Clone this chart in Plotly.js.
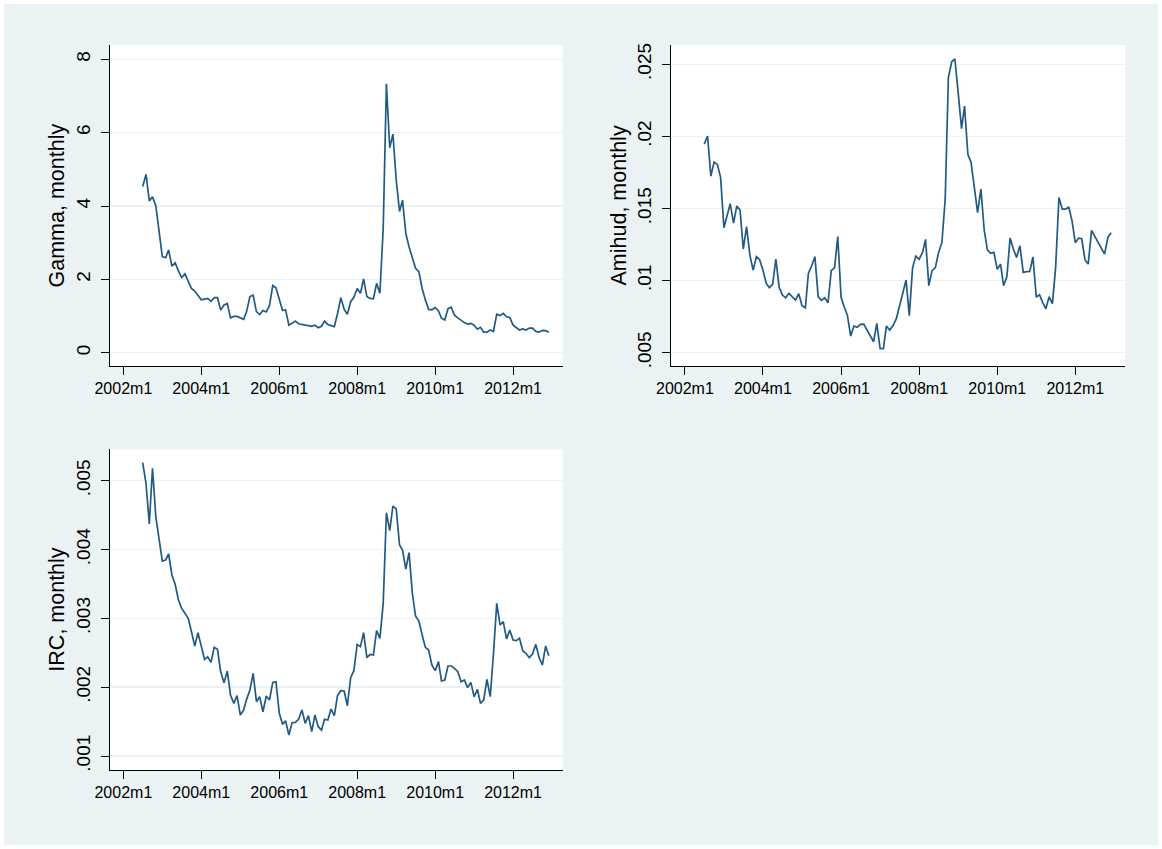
<!DOCTYPE html>
<html><head><meta charset="utf-8">
<script src="https://cdn.plot.ly/plotly-3.0.1.min.js"></script>
<style>
html,body{margin:0;padding:0;background:#ffffff;}
#chart{position:absolute;left:4px;top:4px;width:1154px;height:841px;}
</style></head><body><div id="chart"></div>
<script>
// First month of every series (Stata monthly format yyyy m mm)
const startMonth = '2002-07';

const gamma = [
  4.53,4.86,4.14,4.25,4.01,3.30,2.62,2.59,2.80,2.36,
  2.45,2.23,2.05,2.15,1.96,1.75,1.68,1.57,1.44,1.46,
  1.48,1.40,1.50,1.50,1.16,1.30,1.34,0.95,0.99,0.99,
  0.94,0.91,1.12,1.53,1.57,1.12,1.04,1.15,1.11,1.28,
  1.83,1.77,1.46,1.15,1.17,0.75,0.80,0.86,0.79,0.78,
  0.75,0.74,0.72,0.75,0.68,0.72,0.86,0.77,0.75,0.71,
  1.07,1.50,1.18,1.05,1.39,1.51,1.75,1.62,2.01,1.53,
  1.48,1.47,1.89,1.62,3.39,7.33,5.59,5.96,4.71,3.85,
  4.16,3.25,2.89,2.62,2.30,2.21,1.75,1.44,1.18,1.17,
  1.23,1.14,0.94,0.89,1.20,1.24,1.02,0.95,0.87,0.82,
  0.78,0.80,0.75,0.64,0.69,0.56,0.56,0.62,0.58,1.05,
  1.01,1.07,0.98,0.96,0.75,0.69,0.62,0.65,0.62,0.67,
  0.67,0.58,0.56,0.61,0.60,0.56
];

const amihud = [
  .01947,.02003,.01725,.01822,.01806,.01716,.01367,.01455,.01533,.01399,
  .01517,.01490,.01219,.01374,.01177,.01073,.01166,.01145,.01073,.00981,
  .00951,.00974,.01150,.00953,.00900,.00881,.00912,.00888,.00865,.00909,
  .00826,.00812,.01050,.01103,.01166,.00888,.00863,.00881,.00847,.01069,
  .01090,.01305,.00884,.00814,.00761,.00616,.00685,.00676,.00697,.00699,
  .00657,.00623,.00576,.00703,.00530,.00528,.00685,.00657,.00687,.00734,
  .00830,.00912,.01004,.00757,.01090,.01170,.01147,.01194,.01286,.00965,
  .01069,.01090,.01196,.01263,.01564,.02410,.02518,.02537,.02299,.02054,
  .02211,.01876,.01820,.01656,.01471,.01635,.01351,.01212,.01189,.01196,
  .01078,.01115,.00965,.01027,.01295,.01217,.01161,.01242,.01057,.01062,
  .01064,.01164,.00886,.00902,.00849,.00805,.00888,.00840,.01090,.01577,
  .01496,.01496,.01508,.01416,.01263,.01295,.01291,.01143,.01115,.01349,
  .01309,.01270,.01231,.01184,.01300,.01332
];

const irc = [
  .005262,.004962,.004371,.005180,.004477,.004162,.003833,.003848,.003935,.003630,
  .003494,.003267,.003145,.003073,.003000,.002806,.002598,.002792,.002579,.002404,
  .002443,.002361,.002579,.002550,.002225,.002065,.002235,.001886,.001765,.001877,
  .001596,.001668,.001823,.001959,.002201,.001789,.001862,.001644,.001872,.001814,
  .002070,.002080,.001620,.001460,.001513,.001305,.001484,.001489,.001533,.001668,
  .001475,.001586,.001354,.001596,.001426,.001378,.001533,.001523,.001683,.001586,
  .001880,.001949,.001944,.001731,.002138,.002240,.002622,.002589,.002792,.002429,
  .002477,.002467,.002821,.002710,.003218,.004535,.004274,.004632,.004589,.004066,
  .003993,.003717,.003954,.003363,.003034,.002961,.002758,.002579,.002540,.002322,
  .002240,.002371,.002090,.002104,.002308,.002308,.002274,.002225,.002080,.002104,
  .001993,.002070,.001862,.001969,.001765,.001814,.002114,.001862,.002482,.003218,
  .002903,.002952,.002700,.002831,.002685,.002676,.002710,.002526,.002492,.002429,
  .002482,.002622,.002429,.002322,.002598,.002458
];

const xTickDates  = ['2002-01-01','2004-01-01','2006-01-01','2008-01-01','2010-01-01','2012-01-01'];
const xTickLabels = ['2002m1','2004m1','2006m1','2008m1','2010m1','2012m1'];

const gammaTicks  = [0,2,4,6,8];
const gammaLabels = ['0','2','4','6','8'];
const amihudTicks  = [.005,.01,.015,.02,.025];
const amihudLabels = ['.005','.01','.015','.02','.025'];
const ircTicks  = [.001,.002,.003,.004,.005];
const ircLabels = ['.001','.002','.003','.004','.005'];

const titles = ['Gamma, monthly','Amihud, monthly','IRC, monthly'];

function monthDates(start, n){
  const p = start.split('-').map(Number);
  const out = [];
  for (let i = 0; i < n; i++){
    const t = (p[1]-1) + i;
    const yy = p[0] + Math.floor(t/12);
    const mm = t % 12 + 1;
    out.push(yy + '-' + String(mm).padStart(2,'0') + '-01');
  }
  return out;
}

const FONT = 'Liberation Sans, Arial, Helvetica, sans-serif';
const LINE = '#215a84';
const BG = '#eaf2f3';
const W = 1154, H = 841;

function trace(vals, xa, ya){
  return {x: monthDates(startMonth, vals.length), y: vals, type:'scatter', mode:'lines',
          line:{color:LINE, width:1.7}, xaxis:xa, yaxis:ya, hoverinfo:'x+y', showlegend:false};
}

function xax(domain, anchor){
  return {domain:domain, anchor:anchor, type:'date', range:['2001-08-24','2013-04-10'],
    tickmode:'array', tickvals:xTickDates, ticktext:xTickLabels,
    ticks:'outside', ticklen:8, tickwidth:1, tickcolor:'#000',
    showline:true, linecolor:'#000', linewidth:1, showgrid:false, zeroline:false,
    tickfont:{family:FONT, size:16, color:'#000'}};
}
function yax(domain, anchor, range, tv, tt){
  return {domain:domain, anchor:anchor, range:range,
    tickmode:'array', tickvals:tv, ticktext:tt, tickangle:-90,
    ticks:'outside', ticklen:8, tickwidth:1, tickcolor:'#000', ticklabelstandoff:3,
    showline:true, linecolor:'#000', linewidth:1,
    showgrid:true, gridcolor:BG, gridwidth:1.5, zeroline:false,
    tickfont:{family:FONT, size:19, color:'#000'}};
}

const xd1 = [105.5/W, 558.7/W], xd2 = [667/W, 1121/W];
const ydTop = [1-362/H, 1-41/H], ydBot = [1-766/H, 1-445.3/H];

const data = [trace(gamma,'x','y'), trace(amihud,'x2','y2'), trace(irc,'x3','y3')];

function ttl(text, px, pyTop, pyBot){
  return {text:text, xref:'paper', yref:'paper', x:px/W, y:1-((pyTop+pyBot)/2)/H,
          xanchor:'center', yanchor:'middle', textangle:-90, showarrow:false,
          font:{family:FONT, size:21.5, color:'#000'}};
}

const layout = {
  width:W, height:H, margin:{l:0,r:0,t:0,b:0},
  paper_bgcolor:BG, plot_bgcolor:'#ffffff',
  font:{family:FONT, color:'#000'},
  xaxis: xax(xd1,'y'),  yaxis: yax(ydTop,'x',[-0.363,8.39],gammaTicks,gammaLabels),
  xaxis2:xax(xd2,'y2'), yaxis2:yax(ydTop,'x2',[0.00408,0.02634],amihudTicks,amihudLabels),
  xaxis3:xax(xd1,'y3'), yaxis3:yax(ydBot,'x3',[0.000797,0.005456],ircTicks,ircLabels),
  annotations:[
    ttl(titles[0], 53, 41, 362),
    ttl(titles[1], 615, 41, 362),
    ttl(titles[2], 53, 445.3, 766)
  ]
};

Plotly.newPlot('chart', data, layout, {displayModeBar:false, staticPlot:true});
</script></body></html>
